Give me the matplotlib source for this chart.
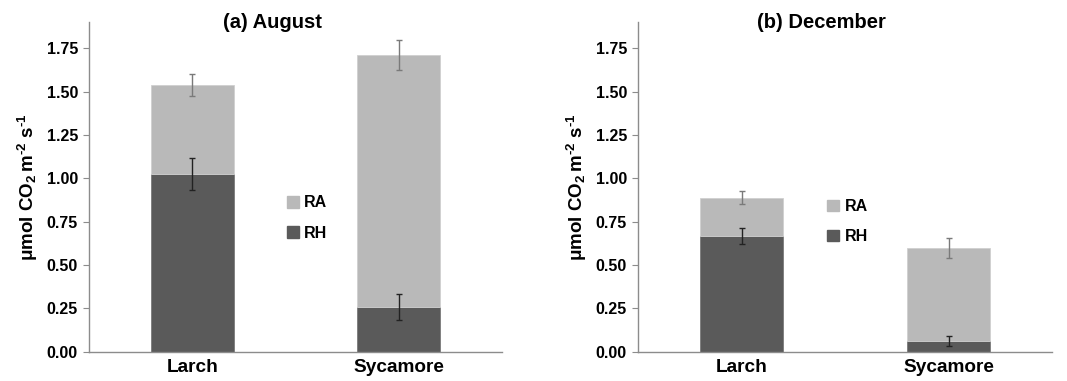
import numpy as np
import matplotlib
matplotlib.use("Agg")
import matplotlib.pyplot as plt
from matplotlib.patches import Patch

plt.rcParams["font.family"] = ["Liberation Sans", "DejaVu Sans"]
plt.rcParams["font.weight"] = "bold"
plt.rcParams["mathtext.fontset"] = "custom"
plt.rcParams["mathtext.rm"] = "Liberation Sans:bold"
plt.rcParams["mathtext.bf"] = "Liberation Sans:bold"
plt.rcParams["mathtext.default"] = "bf"

sites = ["Larch", "Sycamore"]

# August
aug_rh = [1.025, 0.258]
aug_rh_err = [0.09, 0.075]
aug_total = [1.539, 1.712]
aug_total_err = [0.062, 0.087]

# December
dec_rh = [0.669, 0.062]
dec_rh_err = [0.045, 0.031]
dec_total = [0.889, 0.598]
dec_total_err = [0.039, 0.056]

yticks = [0.0, 0.25, 0.5, 0.75, 1.0, 1.25, 1.5, 1.75]

RA_COL = "#b9b9b9"
RH_COL = "#5a5a5a"
AXIS_COL = "#8c8c8c"

fig = plt.figure(figsize=(10.67, 3.81), dpi=100)
ax_a = fig.add_axes([0.0834, 0.0769, 0.387, 0.8643])
ax_b = fig.add_axes([0.598, 0.0769, 0.388, 0.8643])


def panel(ax, rh, rh_err, total, total_err, leg_xy):
    x = np.arange(len(sites))
    ra = np.array(total) - np.array(rh)
    ax.bar(x, rh, width=0.4, color=RH_COL, edgecolor="#7a7a7a", lw=0.6, zorder=2)
    ax.bar(x, ra, width=0.4, bottom=rh, color=RA_COL, edgecolor="#d0d0d0",
           lw=0.6, zorder=2)
    ax.errorbar(x, total, yerr=total_err, fmt="none", ecolor="#7a7a7a",
                elinewidth=1.0, capsize=2.5, capthick=1.0, zorder=3)
    ax.errorbar(x, rh, yerr=rh_err, fmt="none", ecolor="#222222",
                elinewidth=1.0, capsize=2.5, capthick=1.0, zorder=3)

    ax.set_xlim(-0.5, 1.5)
    ax.set_ylim(0, 1.9)
    ax.set_yticks(yticks)
    ax.set_yticklabels([f"{v:.2f}" for v in yticks], fontsize=11.5, fontweight="bold")
    ax.set_xticks(x)
    ax.set_xticklabels(sites, fontsize=13.7, fontweight="bold")
    ax.tick_params(axis="x", length=0, pad=5)
    ax.tick_params(axis="y", length=4, color=AXIS_COL, pad=4)
    for s in ("top", "right"):
        ax.spines[s].set_visible(False)
    for s in ("left", "bottom"):
        ax.spines[s].set_color(AXIS_COL)
        ax.spines[s].set_linewidth(1.0)
    ax.set_ylabel(r"μmol CO$_2$$\,$m$^{\text{-2}}$ s$^{\text{-1}}$",
                  fontsize=13.5, fontweight="bold", labelpad=5)

    handles = [Patch(color=RA_COL, label="RA"), Patch(color=RH_COL, label="RH")]
    ax.legend(handles=handles, loc="center left", bbox_to_anchor=leg_xy,
              frameon=False, borderpad=0, borderaxespad=0,
              handlelength=0.75, handleheight=0.75,
              handletextpad=0.35, labelspacing=0.95,
              prop={"size": 11.5, "weight": "bold"})


panel(ax_a, aug_rh, aug_rh_err, aug_total, aug_total_err, (0.479, 0.406))
panel(ax_b, dec_rh, dec_rh_err, dec_total, dec_total_err, (0.456, 0.395))

fig.text(272 / 1067, 1 - 23 / 381, "(a) August", ha="center", va="center",
         fontsize=14.5, fontweight="bold")
fig.text(821 / 1067, 1 - 23 / 381, "(b) December", ha="center", va="center",
         fontsize=14.5, fontweight="bold")

fig.savefig("out.png", dpi=100)
